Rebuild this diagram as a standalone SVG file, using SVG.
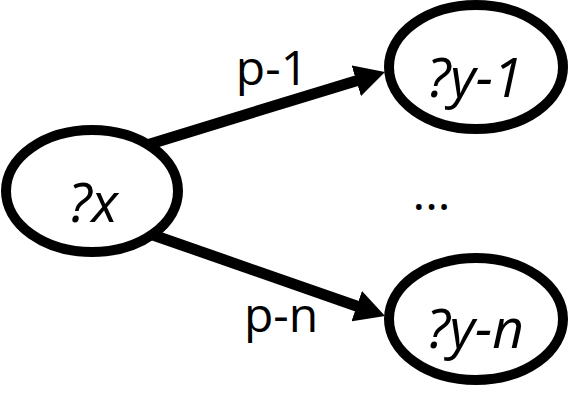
<svg xmlns="http://www.w3.org/2000/svg" width="574" height="410" viewBox="0 0 574 410">
<style>
.node{fill:#fff;stroke:#000;stroke-width:10}
.edge{fill:none;stroke:#000;stroke-width:11}
.nlabel{font-family:"Open Sans","Liberation Sans",sans-serif;font-style:italic;font-size:55px;fill:#000;text-anchor:middle}
.elabel{font-family:"Open Sans","Liberation Sans",sans-serif;font-size:48px;fill:#000;text-anchor:middle}
</style>
<defs>
<marker id="arrow" viewBox="0 -16 30 32" markerWidth="30" markerHeight="32" refX="2" refY="0" orient="auto" markerUnits="userSpaceOnUse">
<path d="M0,-16 L30,0 L0,16 Z" fill="#000"/>
</marker>
</defs>
<rect width="574" height="410" fill="#fff"/>
<g id="connectors">
<line class="edge" x1="140.4" y1="146.9" x2="358.2" y2="80.2" marker-end="url(#arrow)"/>
<line class="edge" x1="143.6" y1="231.7" x2="358.6" y2="306.8" marker-end="url(#arrow)"/>
<text class="elabel" x="272" y="85">p-1</text>
<text class="elabel" x="281" y="332">p-n</text>
</g>
<g id="node-x">
<ellipse class="node" cx="92" cy="191" rx="86" ry="61"/>
<text class="nlabel" x="93" y="222">?x</text>
</g>
<g id="node-y1">
<ellipse class="node" cx="476" cy="67" rx="87" ry="62"/>
<text class="nlabel" x="475" y="97">?y-1</text>
</g>
<g id="node-yn">
<ellipse class="node" cx="476" cy="319" rx="87" ry="61"/>
<text class="nlabel" x="475" y="348">?y-n</text>
</g>
<text class="elabel" x="431.5" y="210">...</text>
</svg>
